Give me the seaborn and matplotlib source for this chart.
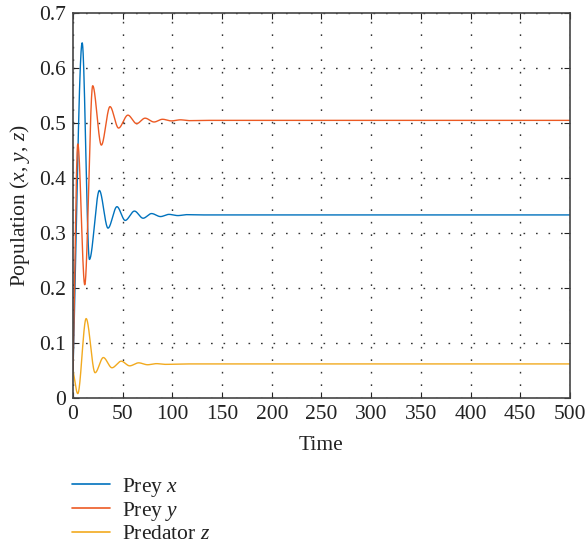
import numpy as np
import pandas as pd
import matplotlib
matplotlib.use("Agg")
import matplotlib.pyplot as plt
import seaborn as sns

# Turning points of each population (time, value) and the settled level
prey_x_t = [0, 9.2, 16.5, 26.5, 35.2, 44.2, 52.5, 61.8, 70.5, 79, 88, 96.5, 105.5, 114, 130, 500]
prey_x_v = [0.05, 0.646, 0.252, 0.3775, 0.309, 0.348, 0.323, 0.340, 0.327, 0.3355, 0.330, 0.334, 0.3318, 0.3335, 0.333, 0.333]

prey_y_t = [0, 4.8, 11.8, 19.8, 28.5, 37.2, 45.8, 55.2, 64, 72.5, 81.5, 90, 99, 108, 117, 135, 500]
prey_y_v = [0.05, 0.462, 0.206, 0.568, 0.460, 0.530, 0.491, 0.5145, 0.499, 0.509, 0.502, 0.507, 0.504, 0.506, 0.5045, 0.505, 0.505]

pred_z_t = [0, 4.8, 13.2, 22.2, 30.5, 39.2, 48.5, 57, 66, 75, 84, 93, 110, 500]
pred_z_v = [0.05, 0.008, 0.1445, 0.046, 0.0736, 0.055, 0.067, 0.0585, 0.064, 0.0605, 0.0625, 0.0612, 0.062, 0.062]

series_names = ["Prey $x$", "Prey $y$", "Predator $z$"]
series_colors = ["#0072BD", "#EC5A24", "#F2AA1F"]

x_ticks = list(range(0, 501, 50))
y_ticks = [0, 0.1, 0.2, 0.3, 0.4, 0.5, 0.6, 0.7]


def pchip(xk, yk, xs):
    """Shape-preserving cubic through the given points."""
    xk = np.asarray(xk, float)
    yk = np.asarray(yk, float)
    h = np.diff(xk)
    d = np.diff(yk) / h
    n = len(xk)
    m = np.zeros(n)
    for i in range(1, n - 1):
        if d[i - 1] * d[i] > 0:
            w1 = 2 * h[i] + h[i - 1]
            w2 = h[i] + 2 * h[i - 1]
            m[i] = (w1 + w2) / (w1 / d[i - 1] + w2 / d[i])
    m[0] = d[0] if n > 1 else 0
    m[-1] = 0
    idx = np.clip(np.searchsorted(xk, xs) - 1, 0, n - 2)
    t = (xs - xk[idx]) / h[idx]
    h00 = 2 * t**3 - 3 * t**2 + 1
    h10 = t**3 - 2 * t**2 + t
    h01 = -2 * t**3 + 3 * t**2
    h11 = t**3 - t**2
    return (h00 * yk[idx] + h10 * h[idx] * m[idx]
            + h01 * yk[idx + 1] + h11 * h[idx] * m[idx + 1])


tt = np.concatenate([np.linspace(0, 150, 1501), np.linspace(150.5, 500, 700)])
frames = []
for name, kt, kv in zip(series_names,
                        [prey_x_t, prey_y_t, pred_z_t],
                        [prey_x_v, prey_y_v, pred_z_v]):
    frames.append(pd.DataFrame({"Time": tt, "value": pchip(kt, kv, tt), "series": name}))
df = pd.concat(frames, ignore_index=True)

sns.set_theme(style="white")
plt.rcParams["font.family"] = ["Liberation Serif", "DejaVu Serif"]
plt.rcParams["mathtext.fontset"] = "custom"
plt.rcParams["mathtext.it"] = "Liberation Serif:italic"
plt.rcParams["mathtext.rm"] = "Liberation Serif"

FS = 15.5

fig = plt.figure(figsize=(5.87, 5.48), dpi=100)
ax = fig.add_axes([0.1244, 0.2737, 0.8466, 0.7023])

sns.lineplot(data=df, x="Time", y="value", hue="series", palette=series_colors,
             hue_order=series_names, linewidth=1.0, ax=ax, legend=False, sort=False,
             estimator=None)

ax.set_xlim(0, 500)
ax.set_ylim(0, 0.7)
ax.set_xticks(x_ticks)
ax.set_yticks(y_ticks)
ax.set_xticklabels([str(v) for v in x_ticks])
ax.set_yticklabels(["0"] + [f"{v:.1f}" for v in y_ticks[1:]])
ax.tick_params(direction="in", length=4, width=0.8, colors="#222222",
               labelsize=FS, top=True, right=True, bottom=True, left=True,
               labelcolor="#222222", pad=5)
ax.grid(True, color="#333333", linestyle=(0, (1.2, 7.8)), linewidth=1.0)
for s in ax.spines.values():
    s.set_visible(True)
    s.set_color("#444444")
    s.set_linewidth(1.2)

ax.set_xlabel("Time", fontsize=FS, color="#222222", labelpad=9)
ax.set_ylabel("Population ($x$, $y$, $z$)", fontsize=FS, color="#222222", labelpad=5)

handles = [plt.Line2D([0], [0], color=c, lw=1.2) for c in series_colors]
ax.legend(handles, series_names, loc="upper left", bbox_to_anchor=(-0.02, -0.18),
          frameon=False, fontsize=FS, handlelength=1.8, handletextpad=0.55,
          labelspacing=0.05, borderaxespad=0, labelcolor="#222222")

fig.savefig("out.png", dpi=100)
